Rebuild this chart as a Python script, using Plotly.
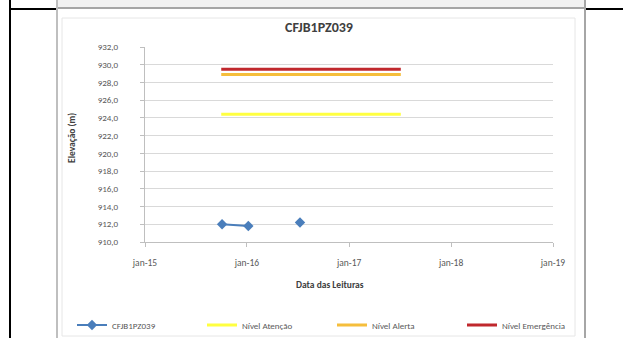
import plotly.graph_objects as go

# ---- data ----
title_text = "CFJB1PZ039"
reading_dates = ["2015-10-04", "2016-01-06", "2016-04-05", "2016-07-09"]
reading_values = [912.0, 911.8, None, 912.2]

threshold_dates = ["2015-10-01", "2017-07-05"]
nivel_atencao = [924.4, 924.4]
nivel_alerta = [928.9, 928.9]
nivel_emergencia = [929.5, 929.5]

x_tick_vals = ["2015-01-01", "2016-01-01", "2017-01-01", "2018-01-01", "2019-01-01"]
x_tick_text = ["jan-15", "jan-16", "jan-17", "jan-18", "jan-19"]
y_tick_vals = [910, 912, 914, 916, 918, 920, 922, 924, 926, 928, 930, 932]
y_tick_text = ["910,0", "912,0", "914,0", "916,0", "918,0", "920,0", "922,0",
               "924,0", "926,0", "928,0", "930,0", "932,0"]

# ---- layout geometry (pixels) ----
W, H = 623, 338
ML, MR, MT, MB = 145, 70, 47, 96
PW = W - ML - MR
PH = H - MT - MB


def px(x):
    return (x - ML) / PW


def py(y):
    return (H - MB - y) / PH


FONT = "Carlito, Liberation Sans Narrow, Liberation Sans, Arial, sans-serif"

fig = go.Figure()
fig.add_trace(go.Scatter(x=reading_dates, y=reading_values, name="CFJB1PZ039",
                         mode="lines+markers",
                         line=dict(color="#4A7EBB", width=2),
                         marker=dict(symbol="diamond", size=8, color="#4A7EBB")))
fig.add_trace(go.Scatter(x=threshold_dates, y=nivel_atencao, name="Nível Atenção",
                         mode="lines", line=dict(color="#FFFF40", width=3)))
fig.add_trace(go.Scatter(x=threshold_dates, y=nivel_alerta, name="Nível Alerta",
                         mode="lines", line=dict(color="#F5BE3C", width=3)))
fig.add_trace(go.Scatter(x=threshold_dates, y=nivel_emergencia, name="Nível Emergência",
                         mode="lines", line=dict(color="#C0282D", width=3)))

shapes = []
# top strip (bottom of previous picture)
shapes.append(dict(type="rect", xref="paper", yref="paper", x0=px(57), x1=px(585),
                   y0=py(0), y1=py(7), fillcolor="#F2F2F2", line=dict(width=0)))
shapes.append(dict(type="line", xref="paper", yref="paper", x0=px(57), x1=px(585),
                   y0=py(8), y1=py(8), line=dict(color="#A6A6A6", width=2)))
# picture frame
shapes.append(dict(type="line", xref="paper", yref="paper", x0=px(57), x1=px(57),
                   y0=py(0), y1=py(H), line=dict(color="#BFBFBF", width=2)))
shapes.append(dict(type="line", xref="paper", yref="paper", x0=px(585), x1=px(585),
                   y0=py(0), y1=py(H), line=dict(color="#A6A6A6", width=2)))
# inner chart border
shapes.append(dict(type="rect", xref="paper", yref="paper", x0=px(62), x1=px(575),
                   y0=py(18), y1=py(336), line=dict(color="#E6E6E6", width=1)))
# table black lines
shapes.append(dict(type="line", xref="paper", yref="paper", x0=px(10), x1=px(10),
                   y0=py(0), y1=py(H), line=dict(color="black", width=2)))
shapes.append(dict(type="line", xref="paper", yref="paper", x0=px(10), x1=px(56),
                   y0=py(9), y1=py(9), line=dict(color="black", width=2)))
shapes.append(dict(type="line", xref="paper", yref="paper", x0=px(586), x1=px(W),
                   y0=py(9), y1=py(9), line=dict(color="black", width=2)))

annotations = [
    dict(text="<b>" + title_text + "</b>", xref="paper", yref="paper", x=px(319), y=py(28),
         showarrow=False, xanchor="center", yanchor="middle",
         font=dict(family=FONT, size=14, color="#404040")),
    dict(text="<b>Data das Leituras</b>", xref="paper", yref="paper", x=px(330), y=py(285),
         showarrow=False, xanchor="center", yanchor="middle",
         font=dict(family=FONT, size=9.5, color="#404040")),
    dict(text="<b>Elevação (m)</b>", xref="paper", yref="paper", x=px(72), y=py(138),
         showarrow=False, xanchor="center", yanchor="middle", textangle=-90,
         font=dict(family=FONT, size=9.5, color="#404040")),
]

fig.update_layout(
    width=W, height=H,
    margin=dict(l=ML, r=MR, t=MT, b=MB, pad=0, autoexpand=False),
    paper_bgcolor="white", plot_bgcolor="white",
    font=dict(family=FONT, size=9, color="#595959"),
    shapes=shapes, annotations=annotations,
    showlegend=True,
    legend=dict(orientation="h", x=px(72), y=py(325), xanchor="left", yanchor="middle",
                font=dict(family=FONT, size=9, color="#595959"),
                entrywidth=85, entrywidthmode="pixels",
                bgcolor="rgba(0,0,0,0)", itemwidth=30, tracegroupgap=0),
    xaxis=dict(type="date", range=["2015-01-01", "2019-01-01"],
               tickvals=x_tick_vals, ticktext=x_tick_text,
               showgrid=False, zeroline=False,
               showline=True, linecolor="#BFBFBF", linewidth=1,
               ticks="outside", ticklen=4, tickcolor="#BFBFBF",
               ticklabelstandoff=8,
               tickfont=dict(family=FONT, size=9.5, color="#595959")),
    yaxis=dict(range=[910, 932], tickvals=y_tick_vals, ticktext=y_tick_text,
               showgrid=True, gridcolor="#D9D9D9", gridwidth=1, zeroline=False,
               showline=True, linecolor="#BFBFBF", linewidth=1,
               ticks="outside", ticklen=4, tickcolor="#BFBFBF",
               ticklabelstandoff=20,
               tickfont=dict(family=FONT, size=9, color="#595959")),
)

fig.write_html("out.html", config={"displayModeBar": False},
               post_script="document.body.style.margin='0';")
